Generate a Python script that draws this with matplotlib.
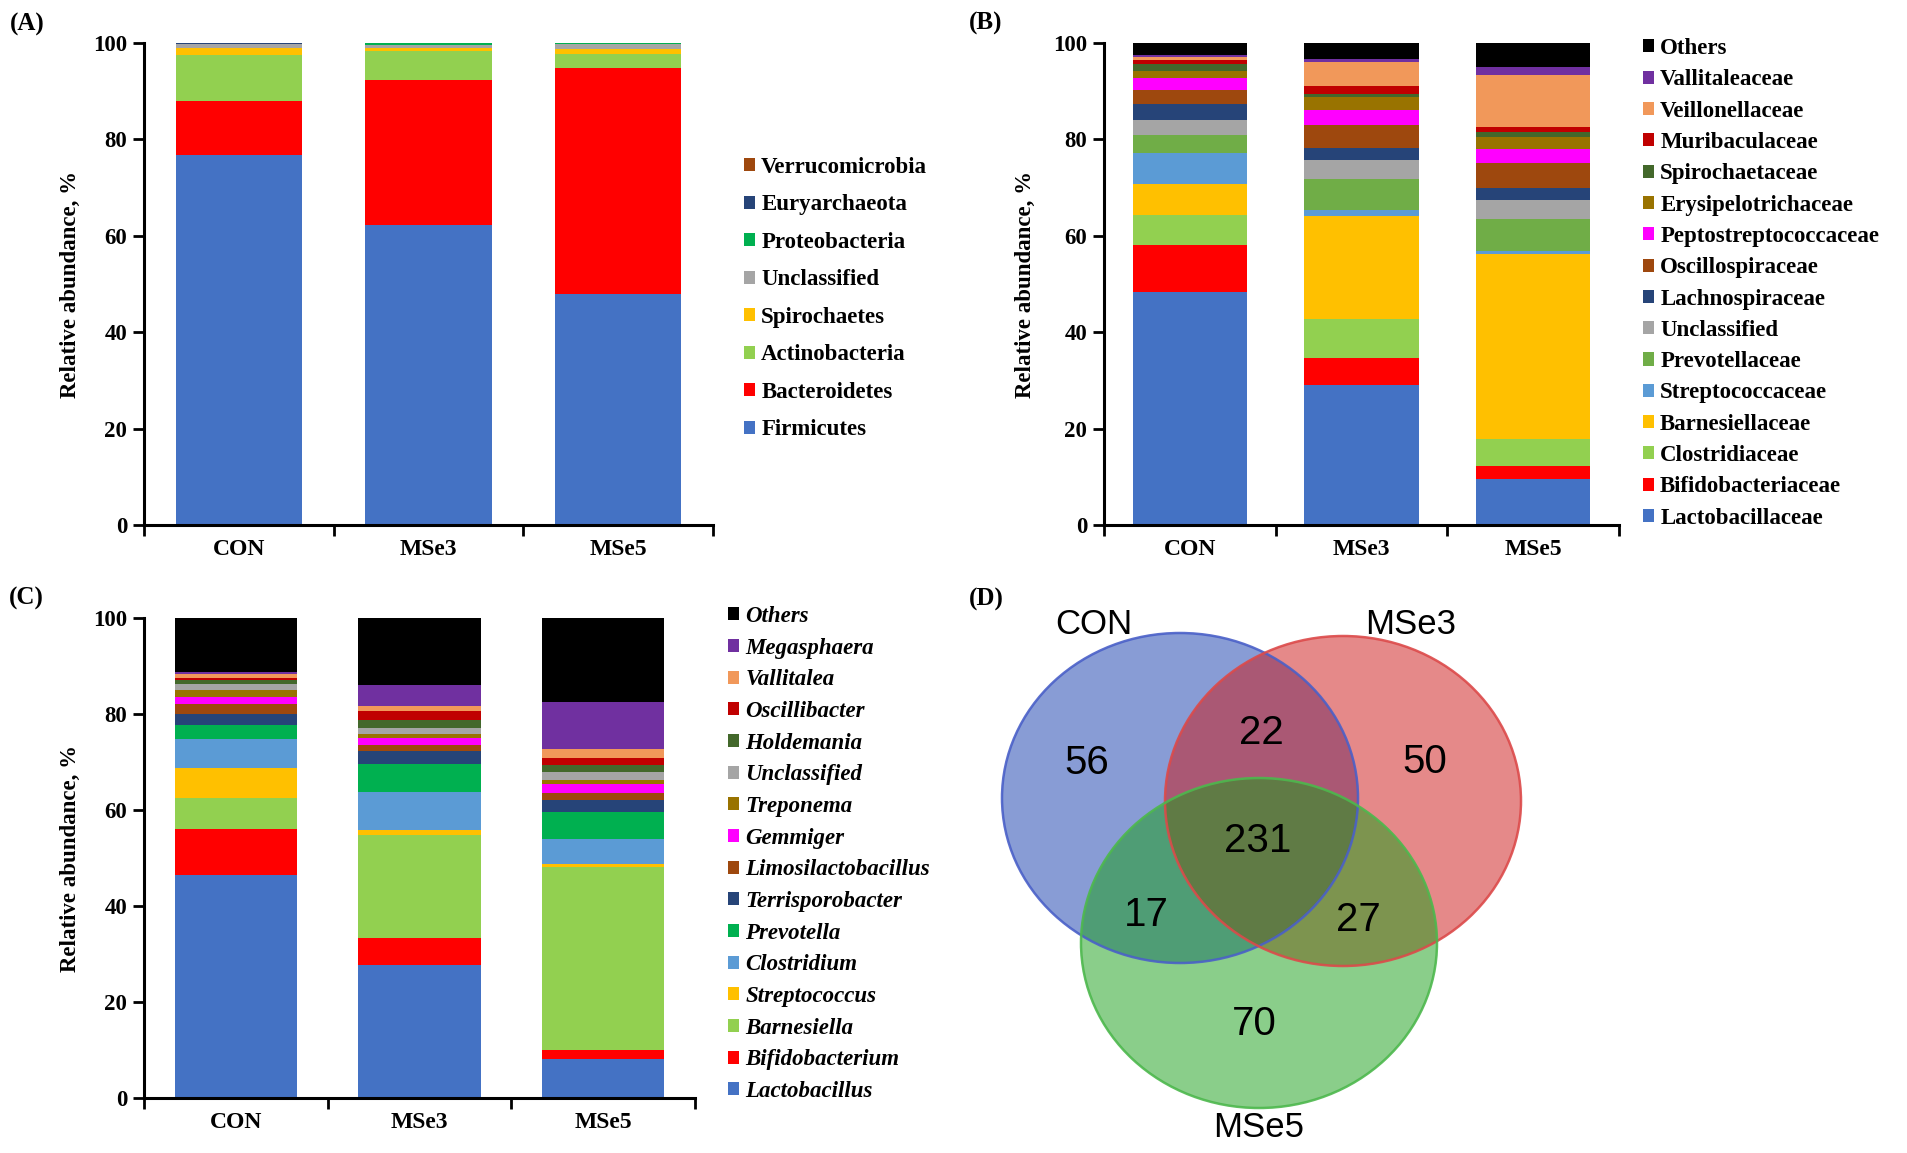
import matplotlib
matplotlib.use("Agg")
import matplotlib.pyplot as plt
from matplotlib.patches import Patch, Ellipse
import numpy as np

# ---------------- data ----------------
groups = ["CON", "MSe3", "MSe5"]

phylum_names = ["Firmicutes", "Bacteroidetes", "Actinobacteria", "Spirochaetes",
                "Unclassified", "Proteobacteria", "Euryarchaeota", "Verrucomicrobia"]
phylum_CON = [76.7, 11.2, 9.6, 1.5, 0.7, 0.05, 0.2, 0.05]
phylum_MSe3 = [62.3, 30.0, 6.0, 0.7, 0.6, 0.3, 0.05, 0.05]
phylum_MSe5 = [47.9, 47.0, 2.9, 1.0, 0.9, 0.2, 0.05, 0.05]

family_names = ["Lactobacillaceae", "Bifidobacteriaceae", "Clostridiaceae", "Barnesiellaceae",
                "Streptococcaceae", "Prevotellaceae", "Unclassified", "Lachnospiraceae",
                "Oscillospiraceae", "Peptostreptococcaceae", "Erysipelotrichaceae",
                "Spirochaetaceae", "Muribaculaceae", "Veillonellaceae", "Vallitaleaceae", "Others"]
family_CON = [48.4, 9.6, 6.3, 6.5, 6.3, 3.8, 3.2, 3.2, 2.9, 2.6, 1.4, 1.4, 0.9, 0.6, 0.5, 2.4]
family_MSe3 = [29.0, 5.6, 8.1, 21.4, 1.2, 6.5, 3.9, 2.6, 4.7, 3.0, 2.7, 0.8, 1.6, 4.9, 0.7, 3.3]
family_MSe5 = [9.6, 2.6, 5.7, 38.4, 0.5, 6.6, 4.0, 2.6, 5.2, 2.9, 2.3, 1.1, 1.1, 10.8, 1.6, 5.0]

genus_names = ["Lactobacillus", "Bifidobacterium", "Barnesiella", "Streptococcus", "Clostridium",
               "Prevotella", "Terrisporobacter", "Limosilactobacillus", "Gemmiger", "Treponema",
               "Unclassified", "Holdemania", "Oscillibacter", "Vallitalea", "Megasphaera", "Others"]
genus_CON = [46.4, 9.7, 6.3, 6.3, 6.1, 2.9, 2.3, 2.0, 1.6, 1.3, 1.4, 0.7, 0.6, 0.7, 0.4, 11.3]
genus_MSe3 = [27.8, 5.6, 21.4, 1.1, 7.8, 5.9, 2.6, 1.3, 1.6, 0.7, 1.2, 1.8, 1.9, 0.9, 4.4, 14.0]
genus_MSe5 = [8.2, 1.7, 38.3, 0.5, 5.2, 5.6, 2.6, 1.4, 1.9, 0.8, 1.7, 1.5, 1.5, 1.9, 9.7, 17.5]

venn_sets = ["CON", "MSe3", "MSe5"]
venn_regions = ["CON", "CON&MSe3", "MSe3", "CON&MSe3&MSe5", "CON&MSe5", "MSe3&MSe5", "MSe5"]
venn_counts = [56, 22, 50, 231, 17, 27, 70]

# ---------------- styles ----------------
phylum_colors = ["#4472C4", "#FF0000", "#92D050", "#FFC000", "#A5A5A5", "#00B050", "#264478", "#9E480E"]
family_colors = ["#4472C4", "#FF0000", "#92D050", "#FFC000", "#5B9BD5", "#70AD47", "#A5A5A5",
                 "#264478", "#9E480E", "#FF00FF", "#997300", "#43682B", "#C00000", "#F1985A",
                 "#7030A0", "#000000"]
genus_colors = ["#4472C4", "#FF0000", "#92D050", "#FFC000", "#5B9BD5", "#00B050", "#264478",
                "#9E480E", "#FF00FF", "#997300", "#A5A5A5", "#43682B", "#C00000", "#F1985A",
                "#7030A0", "#000000"]

SERIF = "Liberation Serif"
FS = 16.5
W, H = 1908, 1153

fig = plt.figure(figsize=(W / 100, H / 100), dpi=100)


def add_axes_px(left, right, top, bottom):
    return fig.add_axes([left / W, 1 - bottom / H, (right - left) / W, (bottom - top) / H])


def stacked(ax, names, table, colors, italic, leg_anchor, labelspacing, ylab_x):
    data = np.array(table)  # groups x categories
    x = np.arange(len(groups))
    bottom = np.zeros(len(groups))
    for j, name in enumerate(names):
        ax.bar(x, data[:, j], bottom=bottom, width=0.665, color=colors[j], linewidth=0, zorder=2)
        bottom += data[:, j]
    ax.set_xlim(-0.5, len(groups) - 0.5)
    ax.set_ylim(0, 100)
    ax.set_yticks(np.arange(0, 101, 20))
    ax.set_yticklabels([str(v) for v in range(0, 101, 20)], fontfamily=SERIF,
                       fontweight="bold", fontsize=FS)
    ax.set_xticks(x)
    ax.set_xticklabels(groups, fontfamily=SERIF, fontweight="bold", fontsize=17)
    ax.set_xticks(np.arange(-0.5, len(groups), 1.0), minor=True)
    ax.tick_params(axis="x", which="major", length=0, pad=10)
    ax.tick_params(axis="x", which="minor", length=8, width=2, direction="out")
    ax.tick_params(axis="y", which="major", length=8, width=2, direction="out", pad=4)
    for s in ["top", "right"]:
        ax.spines[s].set_visible(False)
    for s in ["left", "bottom"]:
        ax.spines[s].set_linewidth(2.2)
    ax.set_ylabel("Relative abundance, %", fontfamily=SERIF, fontweight="bold", fontsize=FS)
    ax.yaxis.set_label_coords(ylab_x, 0.5)
    handles = [Patch(facecolor=colors[j], edgecolor="none") for j in range(len(names))][::-1]
    labels = names[::-1]
    leg = ax.legend(handles, labels, loc="upper left",
                    bbox_to_anchor=(leg_anchor[0] / W, 1 - leg_anchor[1] / H),
                    bbox_transform=fig.transFigure, frameon=False, borderpad=0,
                    borderaxespad=0, handlelength=0.5, handleheight=0.5,
                    handletextpad=0.25, labelspacing=labelspacing,
                    prop={"family": SERIF, "weight": "bold", "size": FS,
                          "style": "italic" if italic else "normal"})
    return leg


# Panel A
axA = add_axes_px(144, 713, 43, 525)
stacked(axA, phylum_names, [phylum_CON, phylum_MSe3, phylum_MSe5], phylum_colors,
        False, (744, 157), 0.72, -0.11)

# Panel B
axB = add_axes_px(1104, 1619, 43, 525)
stacked(axB, family_names, [family_CON, family_MSe3, family_MSe5], family_colors,
        False, (1643, 38), 0.45, -0.132)

# Panel C
axC = add_axes_px(144, 695, 618, 1098)
stacked(axC, genus_names, [genus_CON, genus_MSe3, genus_MSe5], genus_colors,
        True, (728, 606), 0.465, -0.114)

# Panel labels
for lab, (px, py) in {"(A)": (10, 24), "(B)": (969, 23), "(C)": (9, 598), "(D)": (969, 599)}.items():
    fig.text(px / W, 1 - py / H, lab, fontfamily=SERIF, fontweight="bold", fontsize=18,
             ha="left", va="center")

# Panel D: Venn diagram (axes in pixel coordinates)
axD = fig.add_axes([954 / W, 0, 954 / W, 577 / H])
axD.set_xlim(954, 1908)
axD.set_ylim(1153, 576)
axD.set_aspect("equal")
axD.axis("off")

circ_layout = {"CON": (1180, 798), "MSe3": (1343, 801), "MSe5": (1259, 943)}
circ_fill = {"CON": "#133BAD", "MSe3": "#CD1515", "MSe5": "#179F17"}
circ_edge = {"CON": "#4A60C8", "MSe3": "#DC4A4A", "MSe5": "#4DB84D"}
RX, RY = 178, 165
for s in venn_sets:
    axD.add_patch(Ellipse(circ_layout[s], 2 * RX, 2 * RY, facecolor=circ_fill[s],
                          alpha=0.5, edgecolor="none", zorder=1))
for s in venn_sets:
    axD.add_patch(Ellipse(circ_layout[s], 2 * RX, 2 * RY, facecolor="none",
                          edgecolor=circ_edge[s], linewidth=1.8, alpha=0.9, zorder=2))

name_layout = {"CON": (1094, 624), "MSe3": (1411, 624), "MSe5": (1259, 1127)}
for s in venn_sets:
    axD.text(*name_layout[s], s, fontfamily="Liberation Sans", fontsize=25,
             ha="center", va="center", zorder=3)

region_layout = {"CON": (1087, 763), "CON&MSe3": (1261, 733), "MSe3": (1425, 762),
                 "CON&MSe3&MSe5": (1258, 841), "CON&MSe5": (1146, 915),
                 "MSe3&MSe5": (1358, 920), "MSe5": (1254, 1024)}
for r, c in zip(venn_regions, venn_counts):
    axD.text(*region_layout[r], str(c), fontfamily="Liberation Sans", fontsize=29,
             ha="center", va="center", zorder=3)

fig.savefig("out.png", dpi=100)
